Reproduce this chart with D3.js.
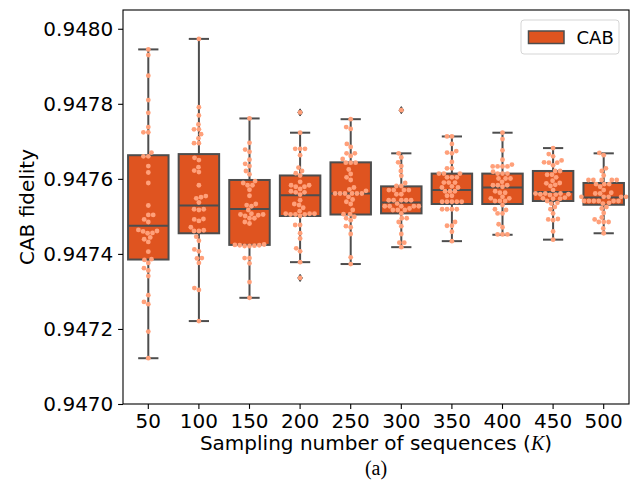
<!DOCTYPE html>
<html>
<head>
<meta charset="utf-8">
<script src="https://cdn.jsdelivr.net/npm/d3@7"></script>
<style>
  body { margin: 0; background: #fff; }
  svg { display: block; }
</style>
</head>
<body>
<script>
// Sampling numbers K (categories on the x axis)
const categories = ["50", "100", "150", "200", "250", "300", "350", "400", "450", "500"];

// CAB fidelity samples for each K
const fid50 = [0.947945, 0.947930, 0.947875, 0.947810, 0.947776, 0.947738, 0.947724, 0.947724, 0.947670, 0.947660,
  0.947660, 0.947634, 0.947617, 0.947589, 0.947529, 0.947504, 0.947504, 0.947492, 0.947485, 0.947464,
  0.947460, 0.947455, 0.947456, 0.947461, 0.947444, 0.947439, 0.947432, 0.947406, 0.947384, 0.947386,
  0.947376, 0.947362, 0.947356, 0.947341, 0.947290, 0.947272, 0.947266, 0.947193, 0.947122];
const fid100 = [0.947973, 0.947791, 0.947769, 0.947745, 0.947732, 0.947732, 0.947719, 0.947708, 0.947695, 0.947695,
  0.947656, 0.947650, 0.947631, 0.947622, 0.947618, 0.947583, 0.947554, 0.947551, 0.947548, 0.947537,
  0.947519, 0.947519, 0.947517, 0.947493, 0.947492, 0.947488, 0.947471, 0.947463, 0.947461, 0.947461,
  0.947446, 0.947435, 0.947412, 0.947407, 0.947388, 0.947389, 0.947376, 0.947309, 0.947304, 0.947221];
const fid150 = [0.947761, 0.947696, 0.947678, 0.947672, 0.947651, 0.947640, 0.947634, 0.947621, 0.947612, 0.947594,
  0.947589, 0.947583, 0.947583, 0.947571, 0.947555, 0.947533, 0.947530, 0.947527, 0.947517, 0.947507,
  0.947505, 0.947505, 0.947503, 0.947501, 0.947495, 0.947495, 0.947485, 0.947481, 0.947424, 0.947423,
  0.947422, 0.947425, 0.947421, 0.947423, 0.947421, 0.947389, 0.947389, 0.947375, 0.947325, 0.947283];
const fid200 = [0.947777, 0.947723, 0.947680, 0.947680, 0.947680, 0.947663, 0.947630, 0.947621, 0.947615, 0.947609,
  0.947592, 0.947583, 0.947583, 0.947579, 0.947579, 0.947573, 0.947567, 0.947564, 0.947564, 0.947558,
  0.947543, 0.947533, 0.947530, 0.947523, 0.947514, 0.947507, 0.947507, 0.947507, 0.947505, 0.947505,
  0.947505, 0.947501, 0.947477, 0.947477, 0.947455, 0.947441, 0.947415, 0.947407, 0.947378, 0.947336];
const fid250 = [0.947759, 0.947738, 0.947733, 0.947693, 0.947685, 0.947668, 0.947668, 0.947661, 0.947653, 0.947643,
  0.947643, 0.947643, 0.947625, 0.947613, 0.947604, 0.947597, 0.947577, 0.947572, 0.947568, 0.947561,
  0.947561, 0.947561, 0.947561, 0.947561, 0.947561, 0.947552, 0.947545, 0.947539, 0.947533, 0.947517,
  0.947506, 0.947506, 0.947499, 0.947495, 0.947490, 0.947474, 0.947471, 0.947453, 0.947391, 0.947373];
const fid300 = [0.947783, 0.947668, 0.947657, 0.947644, 0.947634, 0.947621, 0.947608, 0.947589, 0.947581, 0.947581,
  0.947570, 0.947570, 0.947570, 0.947570, 0.947559, 0.947559, 0.947543, 0.947543, 0.947543, 0.947543,
  0.947543, 0.947534, 0.947527, 0.947527, 0.947527, 0.947527, 0.947527, 0.947521, 0.947517, 0.947517,
  0.947517, 0.947508, 0.947495, 0.947495, 0.947485, 0.947474, 0.947453, 0.947430, 0.947430, 0.947418];
const fid350 = [0.947713, 0.947713, 0.947693, 0.947674, 0.947670, 0.947668, 0.947645, 0.947628, 0.947628, 0.947614,
  0.947614, 0.947614, 0.947604, 0.947604, 0.947604, 0.947590, 0.947590, 0.947590, 0.947580, 0.947577,
  0.947577, 0.947567, 0.947567, 0.947567, 0.947555, 0.947555, 0.947539, 0.947539, 0.947539, 0.947539,
  0.947539, 0.947519, 0.947519, 0.947519, 0.947519, 0.947485, 0.947475, 0.947475, 0.947459, 0.947434];
const fid400 = [0.947723, 0.947706, 0.947676, 0.947651, 0.947638, 0.947633, 0.947633, 0.947633, 0.947633, 0.947619,
  0.947614, 0.947614, 0.947614, 0.947601, 0.947601, 0.947601, 0.947592, 0.947583, 0.947583, 0.947583,
  0.947579, 0.947567, 0.947563, 0.947563, 0.947552, 0.947548, 0.947548, 0.947541, 0.947541, 0.947541,
  0.947530, 0.947519, 0.947517, 0.947508, 0.947508, 0.947479, 0.947471, 0.947452, 0.947452, 0.947452];
const fid450 = [0.947682, 0.947666, 0.947660, 0.947649, 0.947643, 0.947643, 0.947644, 0.947636, 0.947621, 0.947621,
  0.947611, 0.947611, 0.947604, 0.947595, 0.947589, 0.947588, 0.947581, 0.947584, 0.947570, 0.947561,
  0.947561, 0.947561, 0.947559, 0.947559, 0.947558, 0.947557, 0.947550, 0.947548, 0.947547, 0.947547,
  0.947541, 0.947536, 0.947534, 0.947525, 0.947519, 0.947508, 0.947492, 0.947493, 0.947490, 0.947460, 0.947438];
const fid500 = [0.947669, 0.947663, 0.947628, 0.947621, 0.947609, 0.947597, 0.947597, 0.947597, 0.947597, 0.947597,
  0.947586, 0.947586, 0.947586, 0.947579, 0.947570, 0.947563, 0.947561, 0.947561, 0.947552, 0.947552,
  0.947552, 0.947552, 0.947552, 0.947541, 0.947541, 0.947541, 0.947541, 0.947541, 0.947541, 0.947536,
  0.947534, 0.947525, 0.947521, 0.947509, 0.947497, 0.947492, 0.947485, 0.947485, 0.947485, 0.947468, 0.947455];

const samples = [fid50, fid100, fid150, fid200, fid250, fid300, fid350, fid400, fid450, fid500];

// Box statistics per K
const q1        = [0.947385, 0.947455, 0.947424, 0.947501, 0.947505, 0.947508, 0.947533, 0.947533, 0.947541, 0.947531];
const median    = [0.947475, 0.947529, 0.947520, 0.947556, 0.947561, 0.947537, 0.947570, 0.947577, 0.947565, 0.947550];
const q3        = [0.947663, 0.947666, 0.947597, 0.947609, 0.947644, 0.947580, 0.947614, 0.947614, 0.947621, 0.947589];
const whiskerLo = [0.947122, 0.947221, 0.947283, 0.947378, 0.947373, 0.947418, 0.947434, 0.947451, 0.947438, 0.947455];
const whiskerHi = [0.947945, 0.947973, 0.947761, 0.947723, 0.947759, 0.947668, 0.947713, 0.947723, 0.947682, 0.947668];
const outliers  = [[], [], [], [0.947777, 0.947336], [], [0.947783], [], [], [], []];

// Axis ticks
const yTicks = [0.9470, 0.9472, 0.9474, 0.9476, 0.9478, 0.9480];

const seriesName = "CAB";
const boxColor = "#DF5420";
const lineColor = "#4D4D4D";
const dotColor = "#FFA07A";
const sans = "'DejaVu Sans', sans-serif";

const W = 634, H = 483;
const margin = { top: 10, right: 5, bottom: 79, left: 123 };

const svg = d3.select("body").append("svg")
  .attr("width", W).attr("height", H)
  .attr("viewBox", `0 0 ${W} ${H}`);

const x = d3.scaleBand().domain(categories).range([margin.left, W - margin.right]).padding(0);
const y = d3.scaleLinear().domain([0.9470, 0.94805]).range([H - margin.bottom, margin.top]);

const boxW = x.bandwidth() * 0.8;
const capW = boxW * 0.5;

// Boxes with whiskers
const boxes = svg.append("g");
categories.forEach((c, i) => {
  const cx = x(c) + x.bandwidth() / 2;
  const g = boxes.append("g");
  g.append("line").attr("x1", cx).attr("x2", cx).attr("y1", y(q3[i])).attr("y2", y(whiskerHi[i]))
    .attr("stroke", lineColor).attr("stroke-width", 2);
  g.append("line").attr("x1", cx).attr("x2", cx).attr("y1", y(q1[i])).attr("y2", y(whiskerLo[i]))
    .attr("stroke", lineColor).attr("stroke-width", 2);
  g.append("line").attr("x1", cx - capW / 2).attr("x2", cx + capW / 2)
    .attr("y1", y(whiskerHi[i])).attr("y2", y(whiskerHi[i]))
    .attr("stroke", lineColor).attr("stroke-width", 2);
  g.append("line").attr("x1", cx - capW / 2).attr("x2", cx + capW / 2)
    .attr("y1", y(whiskerLo[i])).attr("y2", y(whiskerLo[i]))
    .attr("stroke", lineColor).attr("stroke-width", 2);
  g.append("rect").attr("x", cx - boxW / 2).attr("width", boxW)
    .attr("y", y(q3[i])).attr("height", y(q1[i]) - y(q3[i]))
    .attr("fill", boxColor).attr("stroke", lineColor).attr("stroke-width", 2);
  g.append("line").attr("x1", cx - boxW / 2).attr("x2", cx + boxW / 2)
    .attr("y1", y(median[i])).attr("y2", y(median[i]))
    .attr("stroke", lineColor).attr("stroke-width", 2);
  // fliers (thin diamonds)
  outliers[i].forEach(v => {
    const py = y(v), hh = 3.6, hw = 2.3;
    g.append("path")
      .attr("d", `M${cx},${py - hh}L${cx + hw},${py}L${cx},${py + hh}L${cx - hw},${py}Z`)
      .attr("fill", lineColor).attr("stroke", lineColor).attr("stroke-width", 1);
  });
});

// Beeswarm layout: each point takes the free offset closest to the centre
function swarm(vals) {
  const d = 4.9;
  const pts = vals.map(v => ({ v, py: y(v) })).sort((a, b) => b.py - a.py);
  const placed = [];
  for (const p of pts) {
    const near = placed.filter(q => Math.abs(q.py - p.py) < d);
    const cands = [0];
    for (const q of near) {
      const dx = Math.sqrt(d * d - (q.py - p.py) ** 2);
      cands.push(q.dx - dx, q.dx + dx);
    }
    cands.sort((a, b) => Math.abs(a) - Math.abs(b) || a - b);
    const ok = cands.find(cd => near.every(q => (q.dx - cd) ** 2 + (q.py - p.py) ** 2 >= d * d - 1e-6));
    p.dx = ok;
    placed.push(p);
  }
  return placed;
}

const dots = svg.append("g");
categories.forEach((c, i) => {
  const cx = x(c) + x.bandwidth() / 2;
  dots.selectAll(null).data(swarm(samples[i])).join("circle")
    .attr("cx", d => cx + d.dx).attr("cy", d => d.py).attr("r", 2.4)
    .attr("fill", dotColor);
});

// Frame
svg.append("rect")
  .attr("x", margin.left).attr("y", margin.top)
  .attr("width", W - margin.right - margin.left).attr("height", H - margin.bottom - margin.top)
  .attr("fill", "none").attr("stroke", "#000").attr("stroke-width", 1.1);

// Axes
const yAxis = svg.append("g").attr("transform", `translate(${margin.left},0)`)
  .call(d3.axisLeft(y).tickValues(yTicks).tickFormat(d3.format(".4f")).tickSize(4.9).tickPadding(4.8));
const xAxis = svg.append("g").attr("transform", `translate(0,${H - margin.bottom})`)
  .call(d3.axisBottom(x).tickSize(4.9).tickPadding(5));
[yAxis, xAxis].forEach(a => {
  a.select(".domain").remove();
  a.selectAll(".tick line").attr("stroke", "#000").attr("stroke-width", 1.1);
  a.selectAll(".tick text").attr("fill", "#000").style("font-family", sans).style("font-size", "20px");
});

// Axis titles
const xt = svg.append("text")
  .attr("x", (margin.left + W - margin.right) / 2).attr("y", 450)
  .attr("text-anchor", "middle").style("font-family", sans).style("font-size", "20px").attr("fill", "#000");
xt.append("tspan").text("Sampling number of sequences (");
xt.append("tspan").text("K").style("font-family", "'Liberation Serif', serif").style("font-style", "italic");
xt.append("tspan").text(")");

svg.append("text")
  .attr("transform", `translate(34,${(margin.top + H - margin.bottom) / 2}) rotate(-90)`)
  .attr("text-anchor", "middle").style("font-family", sans).style("font-size", "20px").attr("fill", "#000")
  .text("CAB fidelity");

svg.append("text")
  .attr("x", (margin.left + W - margin.right) / 2).attr("y", 474.5)
  .attr("text-anchor", "middle").style("font-family", "'Liberation Serif', serif").style("font-size", "20px")
  .attr("fill", "#000").text("(a)");

// Legend
const lg = svg.append("g");
lg.append("rect").attr("x", 521).attr("y", 20).attr("width", 98).attr("height", 34).attr("rx", 3)
  .attr("fill", "#fff").attr("fill-opacity", 0.8).attr("stroke", "#d5d5d5").attr("stroke-width", 1);
lg.append("rect").attr("x", 528.5).attr("y", 31).attr("width", 35.5).attr("height", 12.5)
  .attr("fill", boxColor).attr("stroke", lineColor).attr("stroke-width", 1.5);
lg.append("text").attr("x", 576.5).attr("y", 37.5).attr("dy", "0.35em")
  .style("font-family", sans).style("font-size", "18px").attr("fill", "#000").text(seriesName);
</script>
</body>
</html>
